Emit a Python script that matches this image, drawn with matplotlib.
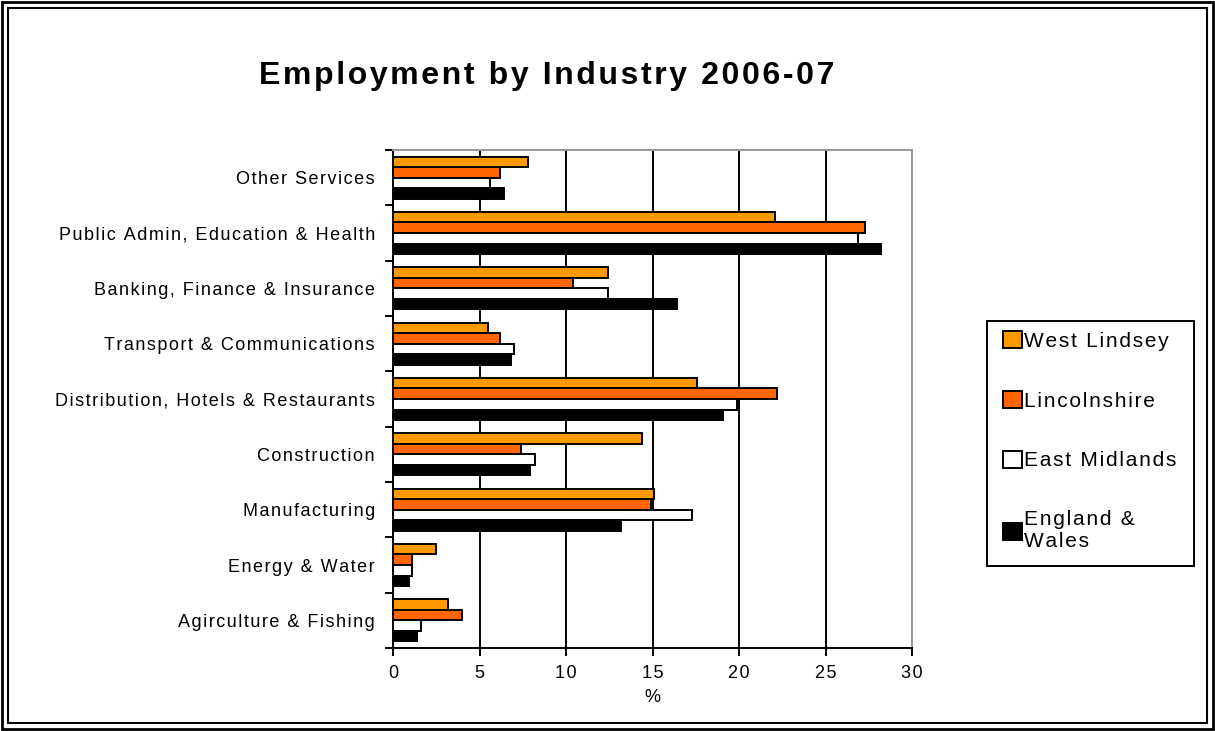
import numpy as np
import matplotlib.pyplot as plt
from matplotlib.patches import Rectangle

plt.rcParams['font.family'] = ['Liberation Sans', 'DejaVu Sans']


def spaced(s):
    # loose letter spacing (hair space between glyphs)
    return "\u200a".join(s)


# categories listed bottom to top
categories = ["Agirculture & Fishing", "Energy & Water", "Manufacturing", "Construction",
              "Distribution, Hotels & Restaurants", "Transport & Communications",
              "Banking, Finance & Insurance", "Public Admin, Education & Health",
              "Other Services"]
west_lindsey = [3.2, 2.5, 15.1, 14.4, 17.6, 5.5, 12.4, 22.1, 7.8]
lincolnshire = [4.0, 1.1, 14.9, 7.4, 22.2, 6.2, 10.4, 27.3, 6.2]
east_midlands = [1.6, 1.1, 17.3, 8.2, 19.9, 7.0, 12.4, 26.9, 5.6]
england_wales = [1.4, 0.9, 13.2, 7.9, 19.1, 6.8, 16.4, 28.2, 6.4]
series_names = ["West Lindsey", "Lincolnshire", "East Midlands", "England &\nWales"]
colors = ["#FF9900", "#FF6600", "#FFFFFF", "#000000"]

fig = plt.figure(figsize=(12.15, 7.31), dpi=100)
W, H = 1215, 731
ax = fig.add_axes([393 / W, 1 - 648 / H, (912 - 393) / W, (648 - 150) / H])

y = np.arange(len(categories))
h = 0.19
offsets = [1.5 * h, 0.5 * h, -0.5 * h, -1.5 * h]
data = [west_lindsey, lincolnshire, east_midlands, england_wales]
for vals, off, col, name in zip(data, offsets, colors, series_names):
    label = "\n".join(spaced(part) for part in name.split("\n"))
    ax.barh(y + off, vals, height=h, color=col, edgecolor="black", linewidth=1.4,
            label=label, zorder=3)

ax.set_xlim(0, 30)
ax.set_ylim(-0.5, len(categories) - 0.5)
xt = np.arange(0, 31, 5)
ax.set_xticks(xt)
ax.set_xticklabels([spaced(str(v)) for v in xt], fontsize=13)
ax.set_yticks(y)
ax.set_yticklabels([spaced(c) for c in categories], fontsize=13)
ax.set_yticks(np.arange(-0.5, len(categories), 1), minor=True)
ax.tick_params(axis="y", which="major", length=0, pad=13)
ax.tick_params(axis="y", which="minor", length=6, width=1.4, direction="out")
ax.tick_params(axis="x", length=6, width=1.4, pad=6)
ax.grid(axis="x", color="black", linewidth=1.4, zorder=0)
for s in ["top", "right"]:
    ax.spines[s].set_color("#999999")
    ax.spines[s].set_linewidth(1.4)
for s in ["left", "bottom"]:
    ax.spines[s].set_linewidth(1.4)
ax.set_xlabel("%", fontsize=13, labelpad=5)

fig.text(547 / W, 1 - 76 / H, spaced("Employment by Industry 2006-07"), fontsize=23,
         fontweight="bold", ha="center", va="center")

# legend box drawn separately so its size is fixed
fig.patches.append(Rectangle((987 / W, 1 - 566 / H), (1194 - 987) / W, (566 - 321) / H,
                             transform=fig.transFigure, fill=False, edgecolor="black",
                             linewidth=1.4))
fig.legend(loc="upper left", bbox_to_anchor=(999 / W, 1 - 327 / H),
           fontsize=15, frameon=False, handlelength=0.88, handleheight=0.88,
           handletextpad=0.12, labelspacing=1.92, borderpad=0.2, borderaxespad=0)

# double border around the whole figure
fig.patches.append(Rectangle((2 / W, 2 / H), 1 - 4 / W, 1 - 4 / H, transform=fig.transFigure,
                             fill=False, edgecolor="black", linewidth=2))
fig.patches.append(Rectangle((8 / W, 8 / H), 1 - 16 / W, 1 - 16 / H, transform=fig.transFigure,
                             fill=False, edgecolor="black", linewidth=1.5))

fig.savefig("out.png", dpi=100)
